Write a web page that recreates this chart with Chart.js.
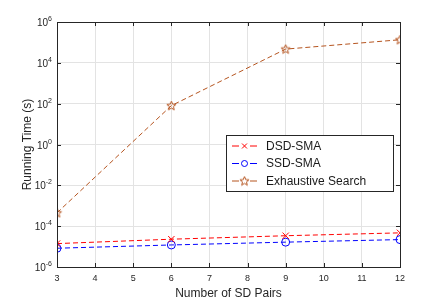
<!DOCTYPE html>
<html>
<head>
<meta charset="utf-8">
<script src="https://cdn.jsdelivr.net/npm/chart.js@4"></script>
<style>
  html, body { margin: 0; padding: 0; background: #fff; }
  #wrap { width: 443px; height: 301px; position: relative; }
</style>
</head>
<body>
<div id="wrap"><canvas id="chart"></canvas></div>
<script>
  // values
  const sdPairs = [3, 6, 9, 12];
  const dsdSma = [1.4e-5, 2.3e-5, 3.4e-5, 4.7e-5];
  const ssdSma = [8.3e-6, 1.2e-5, 1.65e-5, 2.2e-5];
  const exhaustive = [4.5e-4, 80, 4.7e4, 1.35e5];
  const yExponents = [-6, -4, -2, 0, 2, 4, 6];
  const xTicks = [3, 4, 5, 6, 7, 8, 9, 10, 11, 12];

  const axisColor = '#262626';
  const gridColor = '#e3e3e3';
  const font = 'Liberation Sans, Arial, sans-serif';

  // five point star marker
  function makeStar(color) {
    const c = document.createElement('canvas');
    c.width = 11; c.height = 11;
    const g = c.getContext('2d');
    g.beginPath();
    for (let i = 0; i < 10; i++) {
      const r = i % 2 === 0 ? 4.8 : 2.1;
      const a = -Math.PI / 2 + i * Math.PI / 5;
      const px = 5.5 + r * Math.cos(a), py = 5.8 + r * Math.sin(a);
      if (i === 0) g.moveTo(px, py); else g.lineTo(px, py);
    }
    g.closePath();
    g.strokeStyle = color;
    g.lineWidth = 1;
    g.stroke();
    return c;
  }

  const brown = '#b5541f';
  const starImg = makeStar(brown);

  const series = [
    { label: 'DSD-SMA', data: dsdSma, color: '#ff0000', style: 'crossRot', radius: 4.5 },
    { label: 'SSD-SMA', data: ssdSma, color: '#0000ff', style: 'circle', radius: 4 },
    { label: 'Exhaustive Search', data: exhaustive, color: brown, style: starImg, radius: 5 }
  ];

  const datasets = series.map(s => ({
    label: s.label,
    data: sdPairs.map((x, i) => ({ x: x, y: s.data[i] })),
    borderColor: s.color,
    backgroundColor: 'transparent',
    borderWidth: 1,
    borderDash: [5, 3],
    pointStyle: s.style,
    pointRadius: s.radius,
    pointBorderColor: s.color,
    pointBackgroundColor: 'transparent',
    pointBorderWidth: 1,
    tension: 0
  }));

  // box, inward ticks, superscript y labels, legend
  const matlabLook = {
    id: 'matlabLook',
    afterDraw(chart) {
      const ctx = chart.ctx;
      const a = chart.chartArea;
      const xs = chart.scales.x, ys = chart.scales.y;
      ctx.save();
      ctx.strokeStyle = axisColor;
      ctx.lineWidth = 1;
      ctx.strokeRect(Math.round(a.left) + 0.5, Math.round(a.top) + 0.5,
        Math.round(a.right - a.left), Math.round(a.bottom - a.top));

      ctx.beginPath();
      xTicks.forEach(v => {
        const px = Math.round(xs.getPixelForValue(v)) + 0.5;
        ctx.moveTo(px, a.top); ctx.lineTo(px, a.top + 4);
        ctx.moveTo(px, a.bottom); ctx.lineTo(px, a.bottom - 4);
      });
      yExponents.forEach(e => {
        const py = Math.round(ys.getPixelForValue(Math.pow(10, e))) + 0.5;
        ctx.moveTo(a.left, py); ctx.lineTo(a.left + 4, py);
        ctx.moveTo(a.right, py); ctx.lineTo(a.right - 4, py);
      });
      ctx.stroke();

      // y tick labels: 10 with superscript exponent
      ctx.fillStyle = axisColor;
      ctx.textBaseline = 'alphabetic';
      yExponents.forEach(e => {
        const py = ys.getPixelForValue(Math.pow(10, e));
        const exp = String(e);
        ctx.font = '7px ' + font;
        const ew = ctx.measureText(exp).width;
        const right = a.left - 5;
        ctx.textAlign = 'left';
        ctx.fillText(exp, right - ew, py - 1);
        ctx.font = '10px ' + font;
        ctx.textAlign = 'right';
        ctx.fillText('10', right - ew, py + 4);
      });

      // legend box
      const lx = 226, ly = 135, lw = 167, lh = 56;
      ctx.fillStyle = '#fff';
      ctx.fillRect(lx, ly, lw, lh);
      ctx.strokeStyle = axisColor;
      ctx.strokeRect(lx + 0.5, ly + 0.5, lw, lh);
      series.forEach((s, i) => {
        const cy = ly + 11 + i * 17.5;
        ctx.strokeStyle = s.color;
        ctx.fillStyle = 'rgba(0,0,0,0)';
        ctx.lineWidth = 1;
        ctx.beginPath();
        ctx.moveTo(lx + 6, cy); ctx.lineTo(lx + 13, cy);
        ctx.moveTo(lx + 24, cy); ctx.lineTo(lx + 31, cy);
        ctx.stroke();
        Chart.helpers.drawPoint(ctx, {
          pointStyle: s.style, radius: s.radius - 1, borderWidth: 1
        }, lx + 18.5, cy);
        ctx.fillStyle = '#1a1a1a';
        ctx.font = '12px ' + font;
        ctx.textAlign = 'left';
        ctx.textBaseline = 'middle';
        ctx.fillText(s.label, lx + 40, cy + 0.5);
      });
      ctx.restore();
    }
  };

  new Chart(document.getElementById('chart'), {
    type: 'line',
    data: { datasets },
    options: {
      responsive: true,
      maintainAspectRatio: false,
      animation: false,
      layout: { padding: { left: 0, right: 43, top: 22, bottom: 0 } },
      plugins: { legend: { display: false }, tooltip: { enabled: false } },
      scales: {
        x: {
          type: 'linear',
          min: 3, max: 12,
          afterBuildTicks: scale => { scale.ticks = xTicks.map(v => ({ value: v })); },
          afterFit: scale => { scale.height = 34; },
          grid: { color: gridColor, drawTicks: false },
          border: { display: false },
          ticks: { color: axisColor, font: { family: font, size: 9 }, padding: 6, maxRotation: 0 },
          title: {
            display: true, text: 'Number of SD Pairs', color: axisColor,
            font: { family: font, size: 12 }, padding: { top: 2, bottom: 0 }
          }
        },
        y: {
          type: 'logarithmic',
          min: 1e-6, max: 1e6,
          afterBuildTicks: scale => { scale.ticks = yExponents.map(e => ({ value: Math.pow(10, e) })); },
          afterFit: scale => { scale.width = 57; },
          grid: { color: gridColor, drawTicks: false },
          border: { display: false },
          ticks: { callback: () => '' },
          title: {
            display: true, text: 'Running Time (s)', color: axisColor,
            font: { family: font, size: 12 }, padding: { top: 20, bottom: 0 }
          }
        }
      }
    },
    plugins: [matlabLook]
  });
</script>
</body>
</html>
